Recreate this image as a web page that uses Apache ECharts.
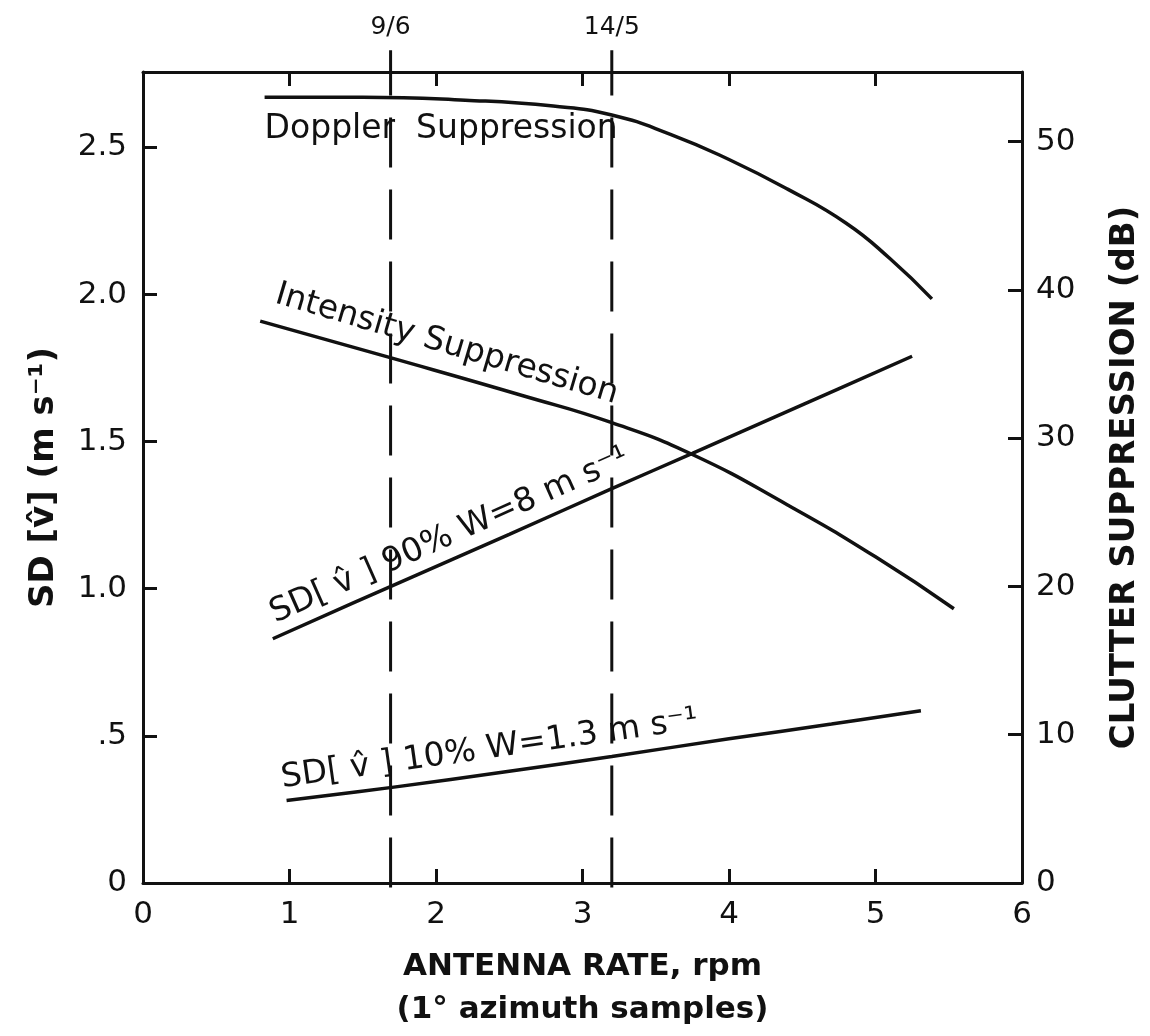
<!DOCTYPE html>
<html>
<head>
<meta charset="utf-8">
<script src="https://cdn.jsdelivr.net/npm/echarts@6/dist/echarts.min.js"></script>
<style>
html,body{margin:0;padding:0;background:#fff;}
#chart{width:1150px;height:1036px;}
</style>
</head>
<body>
<div id="chart"></div>
<script>
// ---- data ----
const xTickLabels = ['0','1','2','3','4','5','6'];
const leftTickLabels = ['0','.5','1.0','1.5','2.0','2.5'];
const rightTickLabels = ['0','10','20','30','40','50'];

// Doppler suppression (dB, right axis)
const dopplerRate = [0.83, 1.5, 2.2, 2.8, 3.2, 3.6, 4.0, 4.4, 4.8, 5.1, 5.385];
const dopplerDb   = [53.0, 53.0, 52.8, 52.4, 51.8, 50.5, 48.8, 46.8, 44.5, 42.1, 39.4];

// Intensity suppression (dB, right axis)
const intensityRate = [0.8, 1.7, 2.6, 3.2, 3.75, 4.4, 5.0, 5.535];
const intensityDb   = [37.9, 35.4, 32.85, 31.05, 28.9, 25.5, 22.0, 18.5];

// SD[v] 90% W=8 m/s (left axis)
const sd90Rate = [0.886, 1.7, 2.5, 3.2, 3.75, 4.5, 5.25];
const sd90Val  = [0.83, 1.01, 1.185, 1.34, 1.46, 1.625, 1.79];

// SD[v] 10% W=1.3 m/s (left axis)
const sd10Rate = [0.98, 1.7, 2.5, 3.2, 4.0, 4.7, 5.31];
const sd10Val  = [0.28, 0.325, 0.38, 0.43, 0.49, 0.54, 0.585];

// dashed reference rates
const refRate   = [1.69, 3.2];
const refLabels = ['9/6', '14/5'];

// ---- chart ----
const FONT = 'DejaVu Sans';
const BLACK = '#111';
const leftMax = 2.756, rightMax = 54.7;

function pairs(xs, ys){ return xs.map((x,i)=>[x, ys[i]]); }

const chart = echarts.init(document.getElementById('chart'), null, {renderer:'canvas'});

const axisLineStyle = {show:true, onZero:false, lineStyle:{color:BLACK, width:3}};
const tickStyle = {show:true, inside:true, length:14, lineStyle:{color:BLACK, width:3}};

const curveStyle = {color:BLACK, width:3.5};

const series = [
  {type:'line', name:'Doppler', yAxisIndex:1, data:pairs(dopplerRate, dopplerDb),
   smooth:0.5, symbol:'none', lineStyle:curveStyle, silent:true},
  {type:'line', name:'Intensity', yAxisIndex:1, data:pairs(intensityRate, intensityDb),
   smooth:0.5, symbol:'none', lineStyle:curveStyle, silent:true},
  {type:'line', name:'SD90', yAxisIndex:0, data:pairs(sd90Rate, sd90Val),
   smooth:0.4, symbol:'none', lineStyle:curveStyle, silent:true},
  {type:'line', name:'SD10', yAxisIndex:0, data:pairs(sd10Rate, sd10Val),
   smooth:0.4, symbol:'none', lineStyle:curveStyle, silent:true}
];
refRate.forEach((r, i) => {
  series.push({type:'line', name:refLabels[i], yAxisIndex:0, clip:false,
    data:[[r, -0.015], [r, 2.83]], symbol:'none', silent:true,
    lineStyle:{color:BLACK, width:3, type:[50, 22]}});
});

chart.setOption({
  animation:false,
  backgroundColor:'#fff',
  textStyle:{fontFamily:FONT, color:BLACK},
  grid:{left:143, right:127, top:72, bottom:151, containLabel:false},
  xAxis:[
    {type:'value', position:'bottom', min:0, max:6, interval:1,
     axisLine:axisLineStyle, axisTick:tickStyle, splitLine:{show:false},
     axisLabel:{fontFamily:FONT, fontSize:31, color:BLACK, margin:16,
       formatter:(v)=>xTickLabels[Math.round(v)] || ''},
     name:'ANTENNA RATE, rpm\n(1° azimuth samples)', nameLocation:'middle', nameGap:62,
     nameTextStyle:{fontFamily:FONT, fontSize:31, fontWeight:'bold', color:BLACK, lineHeight:43}},
    {type:'value', position:'top', min:0, max:6, interval:1,
     axisLine:axisLineStyle, axisTick:tickStyle, splitLine:{show:false},
     axisLabel:{show:false}}
  ],
  yAxis:[
    {type:'value', position:'left', min:0, max:leftMax, interval:0.5,
     axisLine:axisLineStyle, axisTick:tickStyle, splitLine:{show:false},
     axisLabel:{fontFamily:FONT, fontSize:31, color:BLACK, margin:16, showMaxLabel:false,
       formatter:(v)=>{const k=Math.round(v/0.5); return Math.abs(k*0.5 - v)<1e-6 ? (leftTickLabels[k]||'') : '';}},
     name:'SD [v\u0302] (m s\u207B\u00B9)', nameLocation:'middle', nameGap:82,
     nameTextStyle:{fontFamily:FONT, fontSize:34, fontWeight:'bold', color:BLACK}},
    {type:'value', position:'right', min:0, max:rightMax, interval:10,
     axisLine:axisLineStyle, axisTick:tickStyle, splitLine:{show:false},
     axisLabel:{fontFamily:FONT, fontSize:31, color:BLACK, margin:14, showMaxLabel:false,
       formatter:(v)=>{const k=Math.round(v/10); return Math.abs(k*10 - v)<1e-6 ? (rightTickLabels[k]||'') : '';}},
     name:'CLUTTER SUPPRESSION (dB)', nameLocation:'middle', nameGap:86, nameRotate:90,
     nameTextStyle:{fontFamily:FONT, fontSize:34, fontWeight:'bold', color:BLACK}}
  ],
  series:series
});

// annotations anchored in data coordinates (rate, left-axis units)
function px(x, v){ return chart.convertToPixel({xAxisIndex:0, yAxisIndex:0}, [x, v]); }
const deg = Math.PI/180;
const annotations = [
  {text:'Doppler  Suppression', at:[0.83, 2.56], rot:0, align:'left', size:33},
  {text:'Intensity Suppression', at:[2.073, 1.83], rot:-16.5, align:'center', size:33},
  {text:'SD[ v\u0302 ] 90% W=8 m s\u207B\u00B9', at:[2.093, 1.18], rot:24, align:'center', size:33},
  {text:'SD[ v\u0302 ] 10% W=1.3 m s\u207B\u00B9', at:[2.366, 0.454], rot:8, align:'center', size:33}
];
const graphics = annotations.map(a => {
  const p = px(a.at[0], a.at[1]);
  return {type:'text', x:p[0], y:p[1], rotation:a.rot*deg, silent:true,
    style:{text:a.text, fontFamily:FONT, fontSize:a.size, fill:BLACK,
      align:a.align, verticalAlign:'middle'}};
});
refRate.forEach((r, i) => {
  const p = px(r, 2.83);
  graphics.push({type:'text', x:p[0], y:p[1]-10, silent:true,
    style:{text:refLabels[i], fontFamily:FONT, fontSize:25, fill:BLACK,
      align:'center', verticalAlign:'bottom'}});
});
chart.setOption({graphic:graphics});
</script>
</body>
</html>
